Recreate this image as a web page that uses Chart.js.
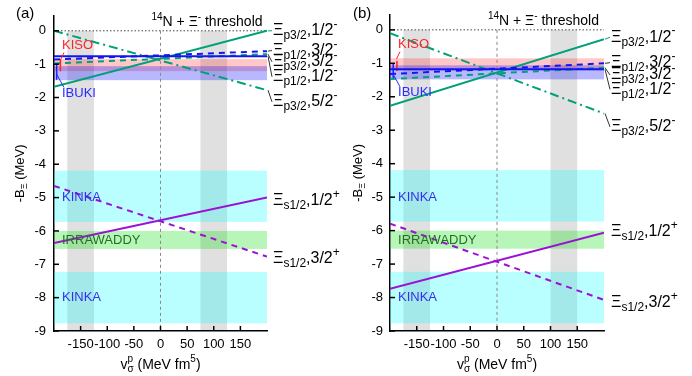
<!DOCTYPE html>
<html>
<head>
<meta charset="utf-8">
<script src="https://cdn.jsdelivr.net/npm/chart.js@4.4.1/dist/chart.umd.min.js"></script>
<style>
  html, body { margin: 0; padding: 0; background: #fff; }
  #wrap { position: relative; width: 692px; height: 376px; }
  canvas { position: absolute; top: 0; }
</style>
</head>
<body>
<div id="wrap">
  <canvas id="chartA" width="340" height="376" style="left:0"></canvas>
  <canvas id="chartB" width="352" height="376" style="left:340px"></canvas>
</div>
<script>
// x end points of every model line, and tick labels
const xEnds = [-200, 200];
const xTicks = [-150, -100, -50, 0, 50, 100, 150];
const yTicks = [0, -1, -2, -3, -4, -5, -6, -7, -8, -9];

// panel (a): -B_Xi at v = -200 and v = +200
const aP32Half = [-1.68, 0.0];
const aP32Five = [0.0, -1.78];
const aP12Three = [-0.86, -0.61];
const aP32Three = [-0.98, -0.70];
const aP12Half = [-0.76, -0.76];
const aS12Half = [-6.36, -5.0];
const aS12Three = [-4.65, -6.77];

// panel (b)
const bP32Half = [-2.27, -0.28];
const bP32Five = [-0.10, -2.50];
const bP12Three = [-1.32, -1.00];
const bP32Three = [-1.47, -1.13];
const bP12Half = [-1.18, -1.18];
const bS12Half = [-7.74, -6.06];
const bS12Three = [-5.79, -8.07];

// experimental ranges (MeV)
const kisoBand = [-0.85, -1.21];
const ibukiBand = [-1.06, -1.48];
const kinkaBands = [[-4.19, -5.73], [-7.23, -8.77]];
const irrawaddyBand = [-6.0, -6.54];
const kisoX = -188;
const ibukiX = -195;

// grey v ranges
const aGrey = [[-175, -125], [75, 125]];
const bGrey = [[-175, -125], [100, 150]];

const F = '"Liberation Sans", Arial, Helvetica, sans-serif';
const GREEN = '#00a078';
const BLUE = '#1414f0';
const PURPLE = '#9a12d6';

function rich(ctx, parts, x, y, size, align, color) {
  const sm = Math.round(size * 0.72);
  const fN = size + 'px ' + F, fS = sm + 'px ' + F;
  const widths = parts.map(([t, m]) => {
    if (m === 's') {
      ctx.font = fS;
      return Math.max(ctx.measureText(t[0]).width, ctx.measureText(t[1]).width);
    }
    ctx.font = m ? fS : fN;
    return ctx.measureText(t).width;
  });
  const total = widths.reduce((s, w) => s + w, 0);
  let cx = align === 'center' ? x - total / 2 : x;
  ctx.fillStyle = color || '#000';
  ctx.textAlign = 'left';
  ctx.textBaseline = 'middle';
  parts.forEach(([t, m], i) => {
    if (m === 's') {
      ctx.font = fS;
      ctx.fillText(t[0], cx, y - size * 0.38);
      ctx.fillText(t[1], cx, y + size * 0.32);
    } else {
      ctx.font = m ? fS : fN;
      ctx.fillText(t, cx, y + (m === 'b' ? size * 0.32 : m === 'p' ? -size * 0.38 : 0));
    }
    cx += widths[i];
  });
}

const xiLabel = (sub, j, sign) => [['Ξ', ''], [sub, 'b'], [',' + j, ''], [sign, 'p']];

function overlay(p) {
  return {
    id: 'overlay' + p.name,
    beforeDatasetsDraw(chart) {
      const { ctx, chartArea: a, scales: { x, y } } = chart;
      ctx.save();
      const y0 = y.getPixelForValue(0);
      ctx.fillStyle = 'rgba(0,0,0,0.12)';
      p.grey.forEach(([v0, v1]) => {
        const p0 = x.getPixelForValue(v0), p1 = x.getPixelForValue(v1);
        ctx.fillRect(p0, y0, p1 - p0, a.bottom - y0);
      });
      const hband = (b, col) => {
        const t = y.getPixelForValue(b[0]), bt = y.getPixelForValue(b[1]);
        ctx.fillStyle = col;
        ctx.fillRect(a.left, t, a.right - a.left, bt - t);
      };
      kinkaBands.forEach(b => hband(b, 'rgba(0,255,255,0.27)'));
      hband(irrawaddyBand, 'rgba(0,220,0,0.28)');
      hband(kisoBand, 'rgba(255,0,0,0.22)');
      hband(ibukiBand, 'rgba(0,0,255,0.28)');

      // threshold line and v = 0 line
      ctx.lineWidth = 1;
      ctx.strokeStyle = '#444';
      ctx.setLineDash([1.5, 2]);
      ctx.beginPath(); ctx.moveTo(a.left, y0); ctx.lineTo(a.right, y0); ctx.stroke();
      ctx.strokeStyle = '#888';
      ctx.setLineDash([3, 3]);
      const xz = x.getPixelForValue(0);
      ctx.beginPath(); ctx.moveTo(xz, y0); ctx.lineTo(xz, a.bottom); ctx.stroke();
      ctx.restore();
    },
    afterDraw(chart) {
      const { ctx, chartArea: a, scales: { x, y } } = chart;
      ctx.save();
      // inward ticks
      ctx.strokeStyle = '#000';
      ctx.lineWidth = 1.5;
      ctx.setLineDash([]);
      yTicks.forEach(v => {
        const py = y.getPixelForValue(v);
        ctx.beginPath(); ctx.moveTo(a.left, py); ctx.lineTo(a.left + 5, py); ctx.stroke();
      });
      xTicks.forEach(v => {
        const px = x.getPixelForValue(v);
        ctx.beginPath(); ctx.moveTo(px, a.bottom); ctx.lineTo(px, a.bottom - 5); ctx.stroke();
      });

      // experiment labels
      const lx = x.getPixelForValue(-185);
      ctx.font = '13px ' + F;
      ctx.textAlign = 'left';
      ctx.textBaseline = 'middle';
      ctx.fillStyle = '#ff2424';
      ctx.fillText('KISO', lx, y.getPixelForValue(-0.44));
      ctx.fillStyle = '#2a2aff';
      ctx.fillText('IBUKI', lx, y.getPixelForValue(-1.88));
      ctx.fillStyle = '#3030f0';
      ctx.fillText('KINKA', lx, y.getPixelForValue(-5.0));
      ctx.fillText('KINKA', lx, y.getPixelForValue(-8.0));
      ctx.fillStyle = '#1d741d';
      ctx.fillText('IRRAWADDY', lx, y.getPixelForValue(-6.29));

      ctx.lineWidth = 1;
      ctx.strokeStyle = '#ff2424';
      ctx.beginPath();
      ctx.moveTo(lx + 2, y.getPixelForValue(-0.44) + 7);
      ctx.lineTo(x.getPixelForValue(kisoX), y.getPixelForValue(kisoBand[0]) + 1);
      ctx.stroke();
      ctx.strokeStyle = '#2a2aff';
      ctx.beginPath();
      ctx.moveTo(x.getPixelForValue(ibukiX), y.getPixelForValue(-1.3));
      ctx.lineTo(lx + 2, y.getPixelForValue(-1.88) - 6);
      ctx.stroke();

      // right-hand state labels with leaders
      p.labels.forEach(l => {
        const ey = y.getPixelForValue(l.end);
        const ly = y.getPixelForValue(l.at);
        if (l.lead) {
          ctx.strokeStyle = l.lead;
          ctx.lineWidth = 1;
          ctx.beginPath();
          ctx.moveTo(a.right + 1, ey);
          ctx.lineTo(a.right + p.gap - 1, ly);
          ctx.stroke();
        }
        rich(ctx, l.parts, a.right + p.gap, ly, 16, 'left');
      });

      // threshold text
      rich(ctx, [['14', 'p'], ['N + Ξ', ''], ['-', 'p'], [' threshold', '']],
        x.getPixelForValue(-17), y.getPixelForValue(0.25), 14, 'left');

      // panel letter
      ctx.font = '15px ' + F;
      ctx.fillStyle = '#000';
      ctx.textAlign = 'left';
      ctx.textBaseline = 'middle';
      ctx.fillText(p.letter, p.letterX, 14);

      // axis titles
      rich(ctx, [['v', ''], [['p', 'σ'], 's'], [' (MeV fm', ''], ['5', 'p'], [')', '']],
        x.getPixelForValue(0), 365, 14, 'center');
      ctx.translate(p.yTitleX, (a.top + a.bottom) / 2);
      ctx.rotate(-Math.PI / 2);
      rich(ctx, [['-B', ''], ['Ξ', 'b'], [' (MeV)', '']], 0, 0, 13, 'center');
      ctx.restore();
    }
  };
}

function line(vals, color, dash) {
  return {
    data: vals.map((v, i) => ({ x: xEnds[i], y: v })),
    showLine: true, borderColor: color, borderWidth: 2, borderDash: dash,
    pointRadius: 0, fill: false
  };
}
function bar(xv, band, color) {
  return {
    data: [{ x: xv, y: band[0] }, { x: xv, y: band[1] }],
    showLine: true, borderColor: color, borderWidth: 1.5, pointRadius: 0, fill: false
  };
}

function makeChart(id, p) {
  return new Chart(document.getElementById(id), {
    type: 'scatter',
    data: { datasets: p.series },
    options: {
      responsive: false,
      animation: false,
      devicePixelRatio: 1,
      layout: { padding: { left: 0, right: p.padRight, top: 13.5, bottom: 0 } },
      plugins: { legend: { display: false }, tooltip: { enabled: false } },
      scales: {
        x: {
          type: 'linear', min: -200, max: 200,
          afterBuildTicks: s => { s.ticks = xTicks.map(v => ({ value: v })); },
          afterFit: s => { s.height = 45; },
          grid: { drawOnChartArea: false, drawTicks: false },
          border: { color: '#000', width: 1.5 },
          ticks: { color: '#000', font: { family: F, size: 13 }, padding: 6, maxRotation: 0, autoSkip: false }
        },
        y: {
          type: 'linear', min: -9, max: 0.45,
          afterBuildTicks: s => { s.ticks = yTicks.map(v => ({ value: v })); },
          afterFit: s => { s.width = p.axisW; },
          grid: { drawOnChartArea: false, drawTicks: false },
          border: { color: '#000', width: 1.5 },
          ticks: { color: '#000', font: { family: F, size: 13 }, padding: p.tickPad }
        }
      }
    },
    plugins: [overlay(p)]
  });
}

makeChart('chartA', {
  name: 'A', letter: '(a)', letterX: 16, yTitleX: 20, axisW: 54, padRight: 73, tickPad: 8, gap: 6,
  grey: aGrey,
  series: [
    line(aP12Half, BLUE, []),
    line(aP12Three, BLUE, [6, 5]),
    line(aP32Three, GREEN, [6, 5]),
    line(aP32Half, GREEN, []),
    line(aP32Five, GREEN, [9, 4, 2, 4]),
    line(aS12Half, PURPLE, []),
    line(aS12Three, PURPLE, [6, 5]),
    bar(kisoX, kisoBand, '#ff2020'),
    bar(ibukiX, [-0.98, -1.47], '#2020ff')
  ],
  labels: [
    { parts: xiLabel('p3/2', '1/2', '-'), end: aP32Half[1], at: 0.0, lead: GREEN },
    { parts: xiLabel('p1/2', '3/2', '-'), end: aP12Three[1], at: -0.59, lead: '#333' },
    { parts: xiLabel('p3/2', '3/2', '-'), end: aP32Three[1], at: -0.93, lead: '#333' },
    { parts: xiLabel('p1/2', '1/2', '-'), end: aP12Half[1], at: -1.38, lead: '#333' },
    { parts: xiLabel('p3/2', '5/2', '-'), end: aP32Five[1], at: -2.13, lead: '#333' },
    { parts: xiLabel('s1/2', '1/2', '+'), end: aS12Half[1], at: -5.1 },
    { parts: xiLabel('s1/2', '3/2', '+'), end: aS12Three[1], at: -6.83 }
  ]
});

makeChart('chartB', {
  name: 'B', letter: '(b)', letterX: 13, yTitleX: 18, axisW: 50, padRight: 88, tickPad: 7, gap: 7,
  grey: bGrey,
  series: [
    line(bP12Half, BLUE, []),
    line(bP12Three, BLUE, [6, 5]),
    line(bP32Three, GREEN, [6, 5]),
    line(bP32Half, GREEN, []),
    line(bP32Five, GREEN, [9, 4, 2, 4]),
    line(bS12Half, PURPLE, []),
    line(bS12Three, PURPLE, [6, 5]),
    bar(kisoX + 1, [-0.93, -1.23], '#ff2020'),
    bar(ibukiX + 1, [-1.0, -1.47], '#2020ff')
  ],
  labels: [
    { parts: xiLabel('p3/2', '1/2', '-'), end: bP32Half[1], at: -0.22, lead: GREEN },
    { parts: xiLabel('p1/2', '3/2', '-'), end: bP12Three[1], at: -0.98, lead: '#333' },
    { parts: xiLabel('p3/2', '3/2', '-'), end: bP32Three[1], at: -1.35, lead: '#333' },
    { parts: xiLabel('p1/2', '1/2', '-'), end: bP12Half[1], at: -1.78, lead: '#333' },
    { parts: xiLabel('p3/2', '5/2', '-'), end: bP32Five[1], at: -2.9, lead: '#333' },
    { parts: xiLabel('s1/2', '1/2', '+'), end: bS12Half[1], at: -6.04 },
    { parts: xiLabel('s1/2', '3/2', '+'), end: bS12Three[1], at: -8.16 }
  ]
});
</script>
</body>
</html>
